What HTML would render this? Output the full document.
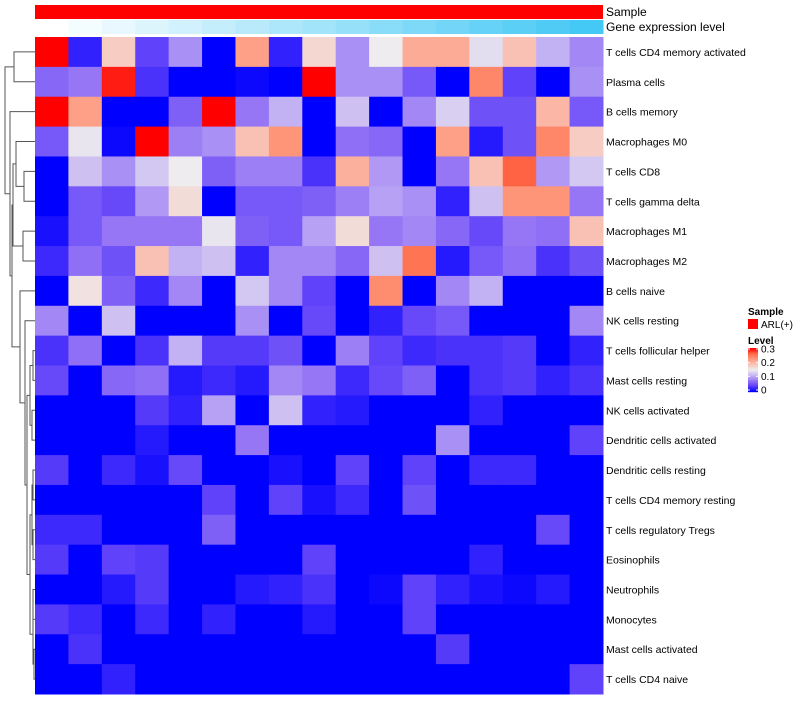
<!DOCTYPE html>
<html><head><meta charset="utf-8"><style>
body{margin:0;background:#fff;width:800px;height:700px;overflow:hidden;font-family:"Liberation Sans",sans-serif}
</style></head><body>
<svg id="chart" width="800" height="700" xmlns="http://www.w3.org/2000/svg" font-family="Liberation Sans, sans-serif"></svg>
<script>
const rowLabels=["T cells CD4 memory activated","Plasma cells","B cells memory","Macrophages M0","T cells CD8","T cells gamma delta","Macrophages M1","Macrophages M2","B cells naive","NK cells resting","T cells follicular helper","Mast cells resting","NK cells activated","Dendritic cells activated","Dendritic cells resting","T cells CD4 memory resting","T cells regulatory  Tregs","Eosinophils","Neutrophils","Monocytes","Mast cells activated","T cells CD4 naive"];
const r0=[.3,.02,.18,.04,.09,0,.22,.02,.17,.09,.15,.21,.21,.14,.19,.11,.085];
const r1=[.065,.075,.29,.03,0,0,.005,0,.3,.09,.09,.055,0,.24,.04,0,.09];
const r2=[.3,.22,0,0,.06,.3,.075,.11,0,.12,0,.085,.13,.05,.05,.2,.055];
const r3=[.055,.145,.005,.3,.08,.09,.19,.23,0,.07,.065,0,.22,.015,.05,.24,.18];
const r4=[0,.12,.09,.125,.15,.06,.08,.08,.03,.205,.095,0,.075,.19,.265,.095,.125];
const r5=[0,.055,.045,.095,.165,0,.055,.055,.06,.08,.1,.09,.02,.12,.23,.23,.075];
const r6=[.01,.055,.075,.075,.075,.145,.06,.055,.1,.165,.075,.085,.065,.045,.075,.07,.19];
const r7=[.025,.07,.05,.19,.11,.12,.02,.085,.085,.065,.12,.255,.015,.055,.07,.03,.05];
const r8=[0,.16,.06,.025,.085,0,.125,.085,.04,0,.235,0,.085,.11,0,0,0];
const r9=[.085,0,.12,0,0,0,.09,0,.045,0,.02,.045,.055,0,0,0,.085];
const r10=[.03,.07,0,.03,.11,.035,.035,.05,0,.08,.04,.025,.03,.03,.035,0,.02];
const r11=[.045,0,.065,.07,.015,.025,.015,.085,.075,.025,.045,.06,0,.03,.035,.02,.03];
const r12=[0,0,0,.035,.02,.1,0,.12,.02,.015,0,0,0,.02,0,0,0];
const r13=[0,0,0,.015,0,0,.075,0,0,0,0,0,.09,0,0,0,.04];
const r14=[.035,0,.025,.01,.045,0,0,.01,0,.04,0,.04,0,.025,.025,0,0];
const r15=[0,0,0,0,0,.04,0,.04,.01,.025,0,.05,0,0,0,0,0];
const r16=[.025,.025,0,0,0,.06,0,0,0,0,0,0,0,0,0,.045,0];
const r17=[.035,0,.04,.035,0,0,0,0,.04,0,0,0,0,.02,0,0,0];
const r18=[0,0,.015,.035,0,0,.015,.02,.03,0,.005,.04,.02,.01,.005,.015,0];
const r19=[.035,.025,0,.025,0,.02,0,0,.015,0,0,.04,0,0,0,0,0];
const r20=[0,.03,0,0,0,0,0,0,0,0,0,0,.035,0,0,0,0];
const r21=[0,0,.02,0,0,0,0,0,0,0,0,0,0,0,0,0,.04];
const values=[r0,r1,r2,r3,r4,r5,r6,r7,r8,r9,r10,r11,r12,r13,r14,r15,r16,r17,r18,r19,r20,r21];
const legendTicks=["0.3","0.2","0.1","0"];
const NS="http://www.w3.org/2000/svg";
const svg=document.getElementById('chart');
const X0=35,X1=603,Y0=37,Y1=694,nC=17,nR=22,cw=(X1-X0)/nC,rh=(Y1-Y0)/nR;
const xs=c=>X0+c*cw, ys=r=>Y0+r*rh;
const stops=[[0,[0,0,255]],[.0375,[92,62,250]],[.075,[150,118,245]],[.1125,[198,182,243]],[.15,[238,236,238]],[.1875,[249,196,184]],[.225,[254,154,127]],[.2625,[255,106,72]],[.3,[255,0,0]]];
function col(v){v=Math.max(0,Math.min(.3,v));for(let i=1;i<stops.length;i++){if(v<=stops[i][0]){const a=stops[i-1],b=stops[i],t=(v-a[0])/(b[0]-a[0]);return 'rgb('+a[1].map((q,k)=>Math.round(q+(b[1][k]-q)*t)).join(',')+')';}}return 'rgb(255,0,0)';}
function mk(tag,at){const e=document.createElementNS(NS,tag);for(const k in at)e.setAttribute(k,at[k]);svg.appendChild(e);return e;}
let e=mk('rect',{x:X0,y:5,width:X1-X0,height:14,fill:'#ff0000'});


for(let c=0;c<nC;c++){const t=c/(nC-1);const r=Math.round(255+(68-255)*t),g=Math.round(255+(200-255)*t),b=Math.round(255+(245-255)*t);
e=mk('rect',{x:xs(c),y:20,width:cw+0.5,height:14,fill:`rgb(${r},${g},${b})`});

}
e=mk('text',{x:606,y:16,'font-size':12});e.textContent='Sample';


e=mk('text',{x:606,y:31,'font-size':12});e.textContent='Gene expression level';


for(let r=0;r<nR;r++){for(let c=0;c<nC;c++){
e=mk('rect',{x:xs(c),y:ys(r),width:cw+0.5,height:rh+0.5,fill:col(values[r][c])});

}
e=mk('text',{x:606,y:ys(r)+rh/2+4,'font-size':10.5});e.textContent=rowLabels[r];

}
const tree=[[0,1,14],[2,[[[3,[4,5,24],16],[6,7,23],13],[8,[9,[[[10,11,33],[12,13,32],30],[[[14,15,33],[16,17,33],32],[[18,19,33],[20,21,34],33],30],27],25],20],12],10],5];
function draw(n){if(typeof n==='number')return {y:ys(n)+rh/2,x:X0};
const a=draw(n[0]),b=draw(n[1]),h=n[2];
let p=mk('path',{d:`M${a.x},${a.y}H${h}V${b.y}H${b.x}`,fill:'none',stroke:'#555','stroke-width':1});


return {x:h,y:(a.y+b.y)/2};}
draw(tree);
e=mk('text',{x:748,y:315,'font-size':10,'font-weight':'bold'});e.textContent='Sample';


e=mk('rect',{x:748,y:319,width:10,height:10,fill:'#ff0000'});


e=mk('text',{x:761,y:328,'font-size':10});e.textContent='ARL(+)';


e=mk('text',{x:748,y:344,'font-size':10,'font-weight':'bold'});e.textContent='Level';


for(let i=0;i<44;i++){const v=.3*(1-i/43);
e=mk('rect',{x:748,y:348+i,width:10,height:1.2,fill:col(v)});

}
legendTicks.forEach((t,i)=>{const y=349+i*(41/3);
e=mk('text',{x:761,y:y+3.5,'font-size':10});e.textContent=t;


mk('line',{x1:748,x2:750,y1:y,y2:y,stroke:'#fff'});mk('line',{x1:756,x2:758,y1:y,y2:y,stroke:'#fff'});});
</script>
</body></html>
